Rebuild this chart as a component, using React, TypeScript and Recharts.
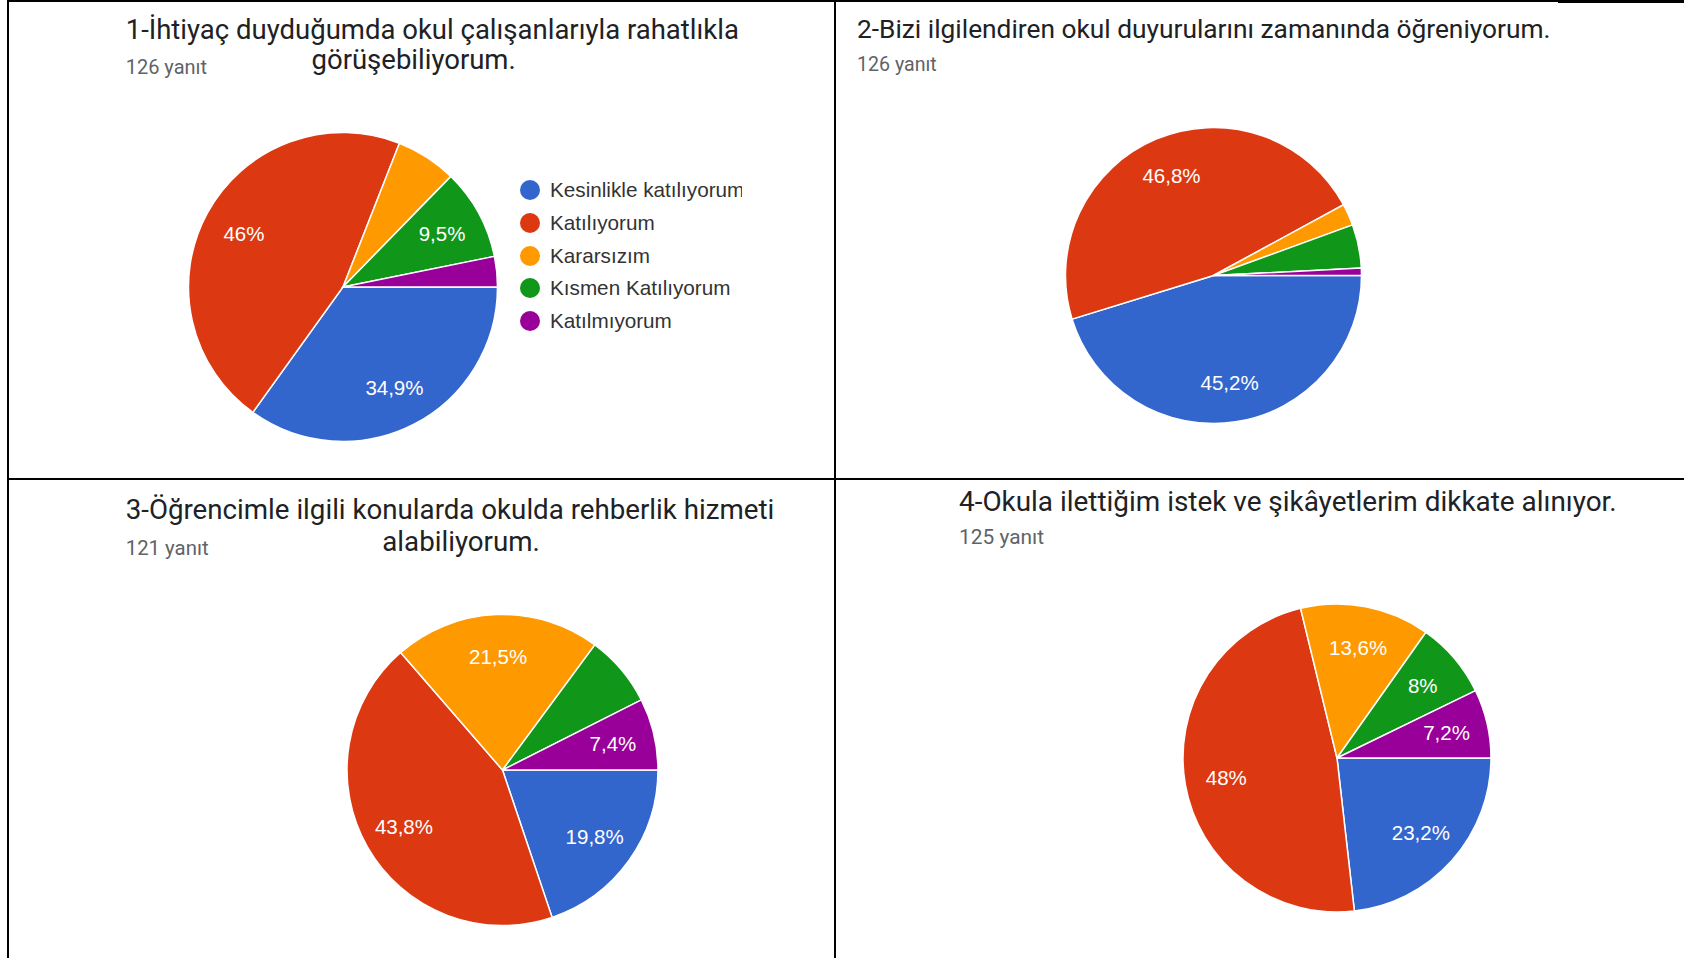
import React from "react";
import { PieChart, Pie, Cell, Legend } from "recharts";

const categories = [
  "Kesinlikle katılıyorum",
  "Katılıyorum",
  "Kararsızım",
  "Kısmen Katılıyorum",
  "Katılmıyorum",
];
const colors = ["#3366cc", "#dc3912", "#ff9900", "#109618", "#990099"];

const q1Counts = [44, 58, 8, 12, 4];
const q2Counts = [57, 59, 3, 6, 1];
const q3Counts = [24, 53, 26, 9, 9];
const q4Counts = [29, 60, 17, 10, 9];

const q1Labels = ["34,9%", "46%", "", "9,5%", ""];
const q2Labels = ["45,2%", "46,8%", "", "", ""];
const q3Labels = ["19,8%", "43,8%", "21,5%", "", "7,4%"];
const q4Labels = ["23,2%", "48%", "13,6%", "8%", "7,2%"];

const q1Title = ["1-İhtiyaç duyduğumda okul çalışanlarıyla rahatlıkla", "görüşebiliyorum."];
const q2Title = ["2-Bizi ilgilendiren okul duyurularını zamanında öğreniyorum."];
const q3Title = ["3-Öğrencimle ilgili konularda okulda rehberlik hizmeti", "alabiliyorum."];
const q4Title = ["4-Okula ilettiğim istek ve şikâyetlerim dikkate alınıyor."];
const responses = ["126 yanıt", "126 yanıt", "121 yanıt", "125 yanıt"];

const toData = (counts: number[]) =>
  categories.map((name, i) => ({ name, value: counts[i] }));

const RAD = Math.PI / 180;

const makeLabel = (labels: string[]) => (props: any) => {
  const { cx, cy, midAngle, outerRadius, index } = props;
  const text = labels[index];
  if (!text) return null;
  const r = outerRadius * 0.73;
  const x = cx + r * Math.cos(-midAngle * RAD);
  const y = cy + r * Math.sin(-midAngle * RAD);
  return (
    <text
      x={x}
      y={y}
      fill="#ffffff"
      textAnchor="middle"
      dominantBaseline="central"
      style={{ fontFamily: "'Liberation Sans', Arial, sans-serif", fontSize: 20.5 }}
    >
      {text}
    </text>
  );
};

const titleFont = "Roboto, 'Noto Sans', sans-serif";

const Txt = ({ x, y, size, color, children }: any) => (
  <div
    style={{
      position: "absolute",
      left: x,
      top: y - size / 2,
      fontFamily: titleFont,
      fontSize: size,
      lineHeight: `${size}px`,
      color,
      whiteSpace: "nowrap",
    }}
  >
    {children}
  </div>
);

const LegendContent = () => (
  <div style={{ width: 222, overflow: "hidden" }}>
    {categories.map((c, i) => (
      <div
        key={c}
        style={{
          display: "flex",
          alignItems: "center",
          height: 32.8,
          whiteSpace: "nowrap",
        }}
      >
        <svg width={20} height={20} style={{ flex: "none" }}>
          <circle cx={10} cy={10} r={10} fill={colors[i]} />
        </svg>
        <span
          style={{
            marginLeft: 10,
            fontFamily: "'Liberation Sans', Arial, sans-serif",
            fontSize: 20.7,
            color: "#333333",
          }}
        >
          {c}
        </span>
      </div>
    ))}
  </div>
);

const Line = ({ x, y, w, h }: any) => (
  <div style={{ position: "absolute", left: x, top: y, width: w, height: h, background: "#000" }} />
);

const pieCommon = {
  dataKey: "value",
  nameKey: "name",
  startAngle: 0,
  endAngle: -360,
  stroke: "#ffffff",
  strokeWidth: 1.5,
  labelLine: false,
  isAnimationActive: false,
};

export default function App() {
  return (
    <div
      style={{
        position: "absolute",
        left: 0,
        top: 0,
        width: 1684,
        height: 958,
        background: "#ffffff",
        overflow: "hidden",
      }}
    >
      <PieChart width={1684} height={958} margin={{ top: 0, right: 0, bottom: 0, left: 0 }}>
        <Pie {...pieCommon} data={toData(q1Counts)} cx={343} cy={287} outerRadius={154.5} label={makeLabel(q1Labels)}>
          {q1Counts.map((_, i) => (
            <Cell key={i} fill={colors[i]} />
          ))}
        </Pie>
        <Pie {...pieCommon} data={toData(q2Counts)} cx={1213.5} cy={275.5} outerRadius={148} label={makeLabel(q2Labels)}>
          {q2Counts.map((_, i) => (
            <Cell key={i} fill={colors[i]} />
          ))}
        </Pie>
        <Pie {...pieCommon} data={toData(q3Counts)} cx={502.5} cy={770} outerRadius={155.5} label={makeLabel(q3Labels)}>
          {q3Counts.map((_, i) => (
            <Cell key={i} fill={colors[i]} />
          ))}
        </Pie>
        <Pie {...pieCommon} data={toData(q4Counts)} cx={1337} cy={758} outerRadius={154} label={makeLabel(q4Labels)}>
          {q4Counts.map((_, i) => (
            <Cell key={i} fill={colors[i]} />
          ))}
        </Pie>
        <Legend
          layout="vertical"
          align="right"
          verticalAlign="middle"
          content={<LegendContent />}
          wrapperStyle={{ position: "absolute", left: 520, top: 173.6, width: 222, height: 165 }}
        />
      </PieChart>

      <Txt x={125.7} y={30} size={27.5} color="#202124">{q1Title[0]}</Txt>
      <Txt x={311.5} y={60} size={27.5} color="#202124">{q1Title[1]}</Txt>
      <Txt x={125.7} y={67} size={20} color="#5f6368">{responses[0]}</Txt>

      <Txt x={857} y={29} size={26.3} color="#202124">{q2Title[0]}</Txt>
      <Txt x={857} y={64.5} size={19.6} color="#5f6368">{responses[1]}</Txt>

      <Txt x={125.7} y={510} size={27.7} color="#202124">{q3Title[0]}</Txt>
      <Txt x={382.3} y={542} size={27.7} color="#202124">{q3Title[1]}</Txt>
      <Txt x={125.7} y={548} size={20.4} color="#5f6368">{responses[2]}</Txt>

      <Txt x={959} y={501.5} size={27.9} color="#202124">{q4Title[0]}</Txt>
      <Txt x={959} y={537} size={20.9} color="#5f6368">{responses[3]}</Txt>

      <Line x={7} y={0} w={2} h={958} />
      <Line x={7} y={0} w={1677} h={2} />
      <Line x={1558} y={0} w={126} h={3} />
      <Line x={834} y={0} w={2} h={958} />
      <Line x={7} y={478} w={1677} h={2} />
    </div>
  );
}
